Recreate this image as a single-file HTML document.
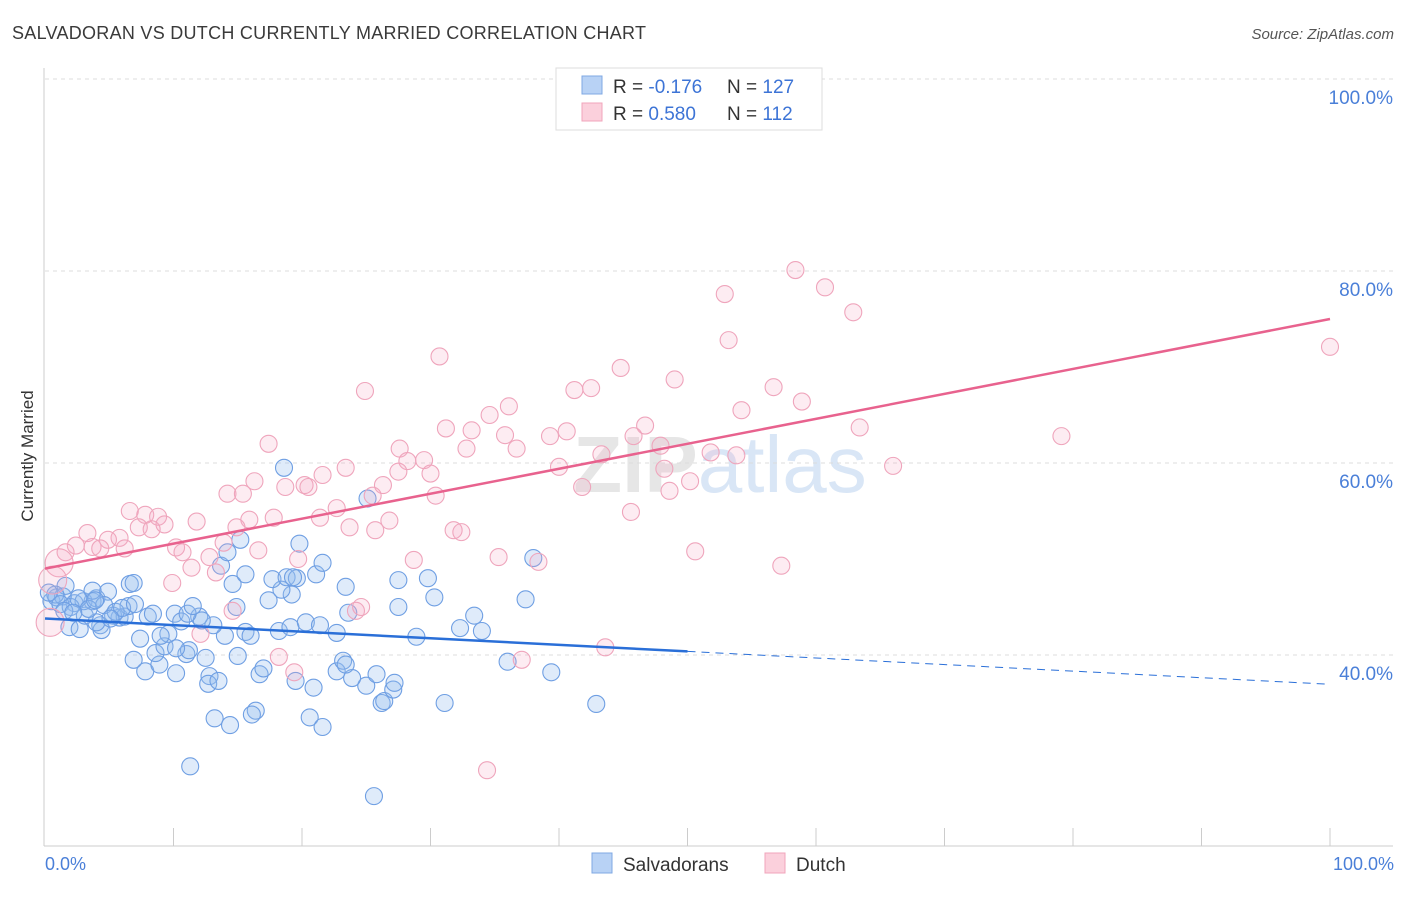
<!DOCTYPE html>
<html><head><meta charset="utf-8"><style>
body{margin:0;background:#fff;font-family:"Liberation Sans",sans-serif}
svg text{font-family:"Liberation Sans",sans-serif}
</style></head><body>
<svg id="chart" width="1406" height="892" viewBox="0 0 1406 892" xmlns="http://www.w3.org/2000/svg">
<text x="12" y="39" font-size="18" fill="#3a3a3a" textLength="634" lengthAdjust="spacing">SALVADORAN VS DUTCH CURRENTLY MARRIED CORRELATION CHART</text>
<text x="1394" y="39" font-size="15" fill="#555" text-anchor="end" font-style="italic">Source: ZipAtlas.com</text>
<text x="720" y="492" font-size="80" fill="#e6e6e6" text-anchor="middle" font-weight="bold">ZIP<tspan fill="#d9e6f6" font-weight="normal">atlas</tspan></text>
<g id="grid"></g>
<g id="axes"></g>
<g id="pts"></g>
<g id="lines"></g>
<text transform="translate(33,456) rotate(-90)" font-size="17" fill="#333" text-anchor="middle">Currently Married</text>
<text x="45" y="870" font-size="18" fill="#4a7fd8">0.0%</text>
<text x="1394" y="870" font-size="18" fill="#4a7fd8" text-anchor="end">100.0%</text>
<g>
<rect x="556" y="68" width="266" height="62" fill="#fff" stroke="#ddd"/>
<rect x="582" y="76" width="20" height="18" fill="#b8d2f5" stroke="#7fa8e3"/>
<rect x="582" y="103" width="20" height="18" fill="#fbd0dc" stroke="#f0a5bb"/>
<text x="613" y="93" font-size="19" fill="#333">R = <tspan fill="#3d74d6">-0.176</tspan><tspan x="727">N = </tspan><tspan fill="#3d74d6">127</tspan></text>
<text x="613" y="120" font-size="19" fill="#333">R = <tspan fill="#3d74d6">0.580</tspan><tspan x="727">N = </tspan><tspan fill="#3d74d6">112</tspan></text>
</g>
<g>
<rect x="592" y="853" width="20" height="20" fill="#b8d2f5" stroke="#7fa8e3"/>
<text x="623" y="871" font-size="19" fill="#333">Salvadorans</text>
<rect x="765" y="853" width="20" height="20" fill="#fbd0dc" stroke="#f0a5bb"/>
<text x="796" y="871" font-size="19" fill="#333">Dutch</text>
</g>
</svg>
<script>
const yTicks=[40,60,80,100];
const xTicks=[10,20,30,40,50,60,70,80,90,100];
const blueX=[25.6,11.3,42.9,31.1,26.2,26.4,16.4,16.1,13.2,14.4,20.6,21.6,20.9,19.5,25.0,27.1,27.2,23.9,22.7,25.8,16.7,17.0,12.8,12.7,13.5,10.2,7.8,8.9,6.9,12.5,11.0,11.2,15.0,8.6,9.3,10.2,23.2,23.4,36.0,39.4,7.4,9.6,14.0,15.6,16.0,18.2,19.1,22.7,28.9,32.3,34.0,13.1,1.9,2.7,4.3,4.4,4.0,5.8,5.3,6.2,3.1,8.0,8.4,10.1,10.6,12.0,12.2,11.1,20.3,21.4,23.6,33.4,14.9,11.5,6.5,0.5,0.9,1.4,2.3,3.7,3.0,4.0,4.9,3.7,1.6,17.4,19.2,18.4,27.5,30.3,37.4,6.6,6.9,14.6,17.7,18.8,19.6,19.3,21.1,23.4,27.5,29.8,15.6,13.7,14.2,19.8,15.2,21.6,38.0,25.1,18.6,0.8,1.2,2.0,2.6,3.4,4.6,5.5,6.0,7.0,0.3,1.5,2.2,3.9,5.1,9.0];
const blueY=[25.3,28.4,34.9,35.0,35.0,35.2,34.2,33.8,33.4,32.7,33.5,32.5,36.6,37.3,36.8,36.4,37.1,37.6,38.3,38.0,38.0,38.6,37.8,37.0,37.3,38.1,38.3,39.0,39.5,39.7,40.1,40.5,39.9,40.2,40.9,40.7,39.4,39.0,39.3,38.2,41.7,42.2,42.0,42.4,42.0,42.5,42.9,42.3,41.9,42.8,42.5,43.1,42.9,42.7,43.1,42.6,43.4,43.9,44.1,44.0,44.1,44.0,44.3,44.3,43.5,44.0,43.6,44.3,43.4,43.1,44.4,44.1,45.0,45.1,45.1,45.6,46.0,46.1,45.4,45.6,45.6,45.9,46.6,46.7,47.2,45.7,46.3,46.8,45.0,46.0,45.8,47.4,47.5,47.4,47.9,48.1,48.0,48.1,48.4,47.1,47.8,48.0,48.4,49.3,50.7,51.6,52.0,49.6,50.1,56.3,59.5,46.3,45.3,45.0,45.9,44.8,45.2,44.5,44.9,45.3,46.5,44.6,44.4,45.7,43.8,42.0];
const pinkX=[100,58.4,60.7,52.9,62.9,53.2,30.7,44.8,24.9,49.0,41.2,42.5,36.1,34.6,54.2,56.7,58.9,79.1,63.4,46.7,47.9,45.8,40.6,39.3,31.2,33.2,35.8,36.7,32.8,27.6,17.4,43.3,51.8,53.8,66.0,48.2,50.2,40.0,41.8,29.5,30.0,28.2,27.5,23.4,21.6,20.2,20.5,18.7,16.3,14.2,15.4,26.3,25.5,30.4,22.7,21.4,17.8,15.9,14.9,11.8,6.6,7.8,8.8,9.3,7.3,8.3,23.7,25.7,26.8,31.8,32.4,45.6,48.6,5.8,3.3,4.9,3.7,2.4,4.3,6.2,1.6,1.1,10.2,10.7,16.6,12.8,13.9,19.7,35.3,28.7,38.4,50.6,57.3,11.4,13.3,9.9,0.6,0.4,24.2,24.6,12.1,18.2,19.4,43.6,37.1,34.4,14.6];
const pinkY=[72.1,80.1,78.3,77.6,75.7,72.8,71.1,69.9,67.5,68.7,67.6,67.8,65.9,65.0,65.5,67.9,66.4,62.8,63.7,63.9,61.8,62.8,63.3,62.8,63.6,63.4,62.9,61.5,61.5,61.5,62.0,60.9,61.1,60.8,59.7,59.4,58.1,59.6,57.5,60.3,58.9,60.2,59.1,59.5,58.75,57.7,57.5,57.5,58.1,56.8,56.8,57.7,56.6,56.6,55.3,54.3,54.3,54.1,53.3,53.9,55.0,54.6,54.4,53.6,53.3,53.1,53.3,53.0,54.0,53.0,52.8,54.9,57.1,52.2,52.7,52.0,51.25,51.4,51.1,51.1,50.7,49.6,51.2,50.7,50.9,50.2,51.7,50.0,50.2,49.9,49.7,50.8,49.3,49.1,48.6,47.5,47.8,43.4,44.6,45.0,42.2,39.8,38.2,40.8,39.5,28.0,44.6];
const blueLine=[43.8,-0.0685];
const pinkLine=[49.0,0.26];
const X0=45,X1=1330,YB=847,YPX=9.6,YMIN=20;
const sx=v=>X0+(X1-X0)*v/100;
const sy=v=>YB-(v-YMIN)*YPX;
const NS="http://www.w3.org/2000/svg";
function mk(parent,tag,attrs){const e=document.createElementNS(NS,tag);for(const k in attrs)e.setAttribute(k,attrs[k]);document.getElementById(parent).appendChild(e);return e;}
yTicks.forEach(t=>{
 const l=mk('grid','line',{x1:45,x2:1393,y1:sy(t),y2:sy(t),stroke:'#dcdcdc','stroke-dasharray':'4,4'});
 
 
 const tx=mk('grid','text',{x:1393,y:sy(t)+25,'font-size':19,fill:'#4a7fd8','text-anchor':'end'});
 tx.textContent=t.toFixed(1)+'%';
 
 
});
let a=mk('axes','line',{x1:44,x2:44,y1:68,y2:846,stroke:'#ccc'});


a=mk('axes','line',{x1:44,x2:1393,y1:846,y2:846,stroke:'#ccc'});


xTicks.forEach(t=>{
 const l=mk('axes','line',{x1:sx(t),x2:sx(t),y1:828,y2:846,stroke:'#ccc'});
 
 
});
blueX.forEach((x,i)=>{
 const c=mk('pts','circle',{cx:sx(x),cy:sy(blueY[i]),r:8.5,fill:'rgba(150,190,240,0.3)',stroke:'#6f9fe3','stroke-width':1.1});
 
 
});
pinkX.forEach((x,i)=>{
 const big=(x<1.2&&(pinkY[i]<44||pinkY[i]>47));
 const c=mk('pts','circle',{cx:sx(x),cy:sy(pinkY[i]),r:big?14:8.5,fill:'rgba(245,170,195,0.22)',stroke:'#efa5bc','stroke-width':1.1});
 
 
});
const bl=v=>blueLine[0]+blueLine[1]*v, pl=v=>pinkLine[0]+pinkLine[1]*v;
let ln=mk('lines','line',{x1:sx(0),y1:sy(bl(0)),x2:sx(50),y2:sy(bl(50)),stroke:'#2a6fd8','stroke-width':2.5});


ln=mk('lines','line',{x1:sx(50),y1:sy(bl(50)),x2:sx(100),y2:sy(bl(100)),stroke:'#2a6fd8','stroke-width':1,'stroke-dasharray':'8,6'});


ln=mk('lines','line',{x1:sx(0),y1:sy(pl(0)),x2:sx(100),y2:sy(pl(100)),stroke:'#e8628e','stroke-width':2.5});


</script>
</body></html>
